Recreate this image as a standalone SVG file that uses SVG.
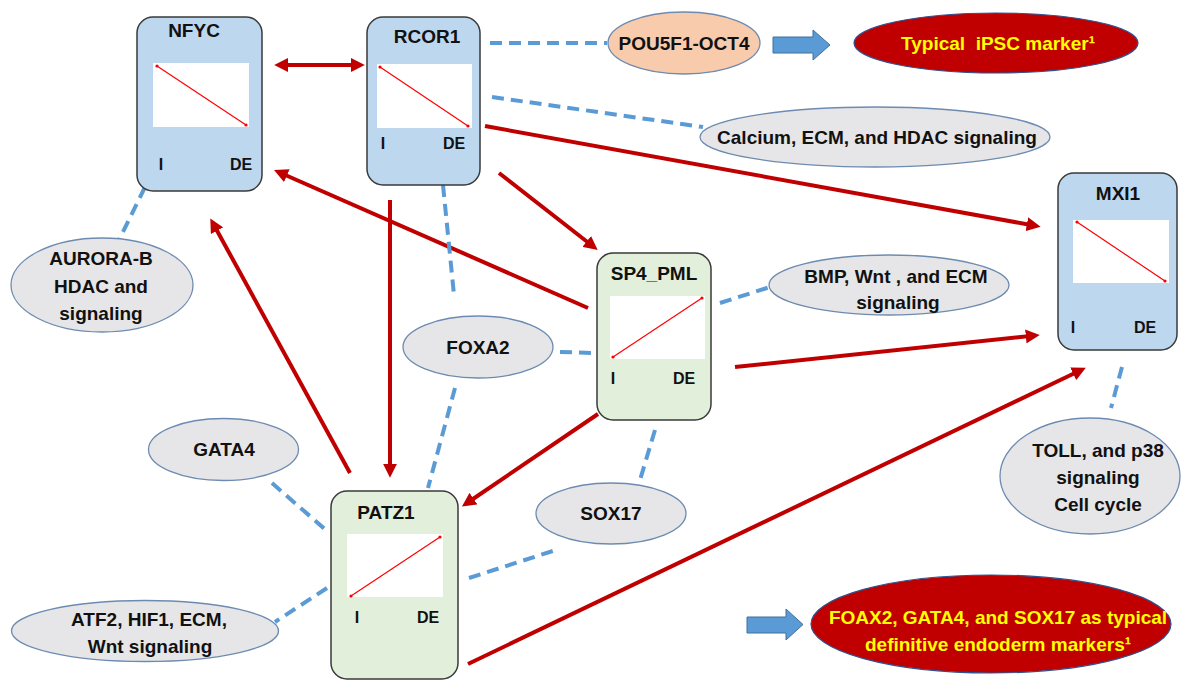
<svg xmlns="http://www.w3.org/2000/svg" width="1182" height="680" viewBox="0 0 1182 680">
<style>
text{font-family:"Liberation Sans",Arial,sans-serif;font-weight:bold;fill:#111;}
.t{font-size:19px;text-anchor:middle;}
.ax{font-size:16px;text-anchor:middle;}
.y{fill:#FFFF00;}
.boxb{fill:#BDD7EE;stroke:#3A3A3A;stroke-width:1.5;}
.boxg{fill:#E2EFDA;stroke:#3A3A3A;stroke-width:1.5;}
.plot{fill:#FFFFFF;stroke:none;}
.trend{stroke:#FF0000;stroke-width:1.2;fill:none;}
.dot{fill:#FF0000;}
.ell{fill:#E6E6E8;stroke:#6D8BB0;stroke-width:1.3;}
.pea{fill:#F8CBAD;stroke:#6D8BB0;stroke-width:1.3;}
.red{fill:#C00000;stroke:#2F528F;stroke-width:1.2;}
.ra{stroke:#C00000;stroke-width:4;fill:none;marker-end:url(#ah);}
.bd{stroke:#5B9BD5;stroke-width:4;fill:none;stroke-dasharray:12 7;}
.blk{fill:#5B9BD5;stroke:#41719C;stroke-width:1;}
</style>
<defs>
<marker id="ah" viewBox="0 0 10 10" refX="3" refY="5" markerWidth="3.5" markerHeight="3.5" orient="auto-start-reverse" markerUnits="strokeWidth">
<path d="M0,0 L10,5 L0,10 z" fill="#C00000"/>
</marker>
</defs>

<g id="connectors">
<line class="ra" x1="284" y1="65" x2="355" y2="65" style="marker-start:url(#ah)"/>
<line class="ra" x1="485" y1="126" x2="1031" y2="225"/>
<line class="ra" x1="499" y1="173" x2="590" y2="244"/>
<line class="ra" x1="390" y1="200" x2="390" y2="468"/>
<line class="ra" x1="588" y1="308" x2="283" y2="174"/>
<line class="ra" x1="350" y1="473" x2="215" y2="227"/>
<line class="ra" x1="735" y1="367" x2="1030" y2="336"/>
<line class="ra" x1="598" y1="414" x2="470" y2="501"/>
<line class="ra" x1="468" y1="664" x2="1077" y2="372"/>

<line class="bd" x1="490" y1="43" x2="607" y2="43"/>
<line class="bd" x1="492" y1="97" x2="703" y2="127"/>
<line class="bd" x1="145" y1="187" x2="119" y2="240"/>
<line class="bd" x1="443" y1="185" x2="454" y2="295"/>
<line class="bd" x1="560" y1="352" x2="593" y2="353"/>
<line class="bd" x1="720" y1="303" x2="770" y2="287"/>
<line class="bd" x1="455" y1="388" x2="428" y2="488"/>
<line class="bd" x1="272" y1="483" x2="327" y2="531"/>
<line class="bd" x1="327" y1="588" x2="275" y2="622"/>
<line class="bd" x1="469" y1="578" x2="559" y2="549"/>
<line class="bd" x1="655" y1="430" x2="640" y2="480"/>
<line class="bd" x1="1122" y1="367" x2="1111" y2="408"/>

<polygon class="blk" points="773,37 813,37 813,30 830,45 813,60 813,53 773,53"/>
<polygon class="blk" points="747,617 786,617 786,609 803,624.5 786,640 786,633 747,633"/>
</g>

<g id="NFYC">
<rect class="boxb" x="137" y="17" width="125" height="174" rx="16"/>
<text class="t" x="194" y="37">NFYC</text>
<rect class="plot" x="153" y="63" width="96" height="64"/>
<line class="trend" x1="157" y1="66" x2="246" y2="125"/>
<circle class="dot" cx="157" cy="66" r="1.6"/><circle class="dot" cx="246" cy="125" r="1.6"/>
<text class="ax" x="161" y="170">I</text>
<text class="ax" x="241" y="170">DE</text>
</g>

<g id="RCOR1">
<rect class="boxb" x="367" y="17" width="113" height="168" rx="16"/>
<text class="t" x="427" y="43">RCOR1</text>
<rect class="plot" x="377" y="64" width="95" height="64"/>
<line class="trend" x1="380" y1="67" x2="468" y2="126"/>
<circle class="dot" cx="380" cy="67" r="1.6"/><circle class="dot" cx="468" cy="126" r="1.6"/>
<text class="ax" x="383" y="149">I</text>
<text class="ax" x="454" y="149">DE</text>
</g>

<g id="SP4_PML">
<rect class="boxg" x="597" y="253" width="114" height="167" rx="16"/>
<text class="t" x="654" y="280">SP4_PML</text>
<rect class="plot" x="610" y="296" width="95" height="63"/>
<line class="trend" x1="613" y1="357" x2="702" y2="298"/>
<circle class="dot" cx="613" cy="357" r="1.6"/><circle class="dot" cx="702" cy="298" r="1.6"/>
<text class="ax" x="613" y="384">I</text>
<text class="ax" x="684" y="384">DE</text>
</g>

<g id="MXI1">
<rect class="boxb" x="1058" y="173" width="119" height="177" rx="16"/>
<text class="t" x="1118" y="200">MXI1</text>
<rect class="plot" x="1073" y="220" width="96" height="63"/>
<line class="trend" x1="1077" y1="222" x2="1165" y2="281"/>
<circle class="dot" cx="1077" cy="222" r="1.6"/><circle class="dot" cx="1165" cy="281" r="1.6"/>
<text class="ax" x="1073" y="333">I</text>
<text class="ax" x="1145" y="333">DE</text>
</g>

<g id="PATZ1">
<rect class="boxg" x="331" y="491" width="127" height="188" rx="16"/>
<text class="t" x="386" y="519">PATZ1</text>
<rect class="plot" x="347" y="534" width="96" height="63"/>
<line class="trend" x1="351" y1="596" x2="440" y2="537"/>
<circle class="dot" cx="351" cy="596" r="1.6"/><circle class="dot" cx="440" cy="537" r="1.6"/>
<text class="ax" x="357" y="623">I</text>
<text class="ax" x="428" y="623">DE</text>
</g>

<g id="POU5F1">
<ellipse class="pea" cx="684" cy="43" rx="76" ry="31"/>
<text class="t" x="684" y="50">POU5F1-OCT4</text>
</g>

<g id="iPSC_marker">
<ellipse class="red" cx="996" cy="43" rx="142" ry="30"/>
<text class="t y" x="998" y="50" xml:space="preserve" style="white-space:pre">Typical  iPSC marker¹</text>
</g>

<g id="Calcium">
<ellipse class="ell" cx="875" cy="137" rx="175" ry="30"/>
<text class="t" x="877" y="144">Calcium, ECM, and HDAC signaling</text>
</g>

<g id="AURORA">
<ellipse class="ell" cx="102" cy="285" rx="91" ry="47"/>
<text class="t" x="101" y="265">AURORA-B</text>
<text class="t" x="101" y="293">HDAC and</text>
<text class="t" x="101" y="320">signaling</text>
</g>

<g id="FOXA2">
<ellipse class="ell" cx="478" cy="347" rx="75" ry="31"/>
<text class="t" x="478" y="354">FOXA2</text>
</g>

<g id="BMP">
<ellipse class="ell" cx="889" cy="285" rx="120" ry="30"/>
<text class="t" x="896" y="283">BMP, Wnt , and ECM</text>
<text class="t" x="898" y="309">signaling</text>
</g>

<g id="GATA4">
<ellipse class="ell" cx="223.5" cy="449.5" rx="75" ry="31"/>
<text class="t" x="224" y="456">GATA4</text>
</g>

<g id="SOX17">
<ellipse class="ell" cx="611" cy="513.5" rx="75" ry="30.5"/>
<text class="t" x="611" y="520">SOX17</text>
</g>

<g id="TOLL">
<ellipse class="ell" cx="1090" cy="476" rx="90" ry="58"/>
<text class="t" x="1098" y="457">TOLL, and p38</text>
<text class="t" x="1098" y="484">signaling</text>
<text class="t" x="1098" y="511">Cell cycle</text>
</g>

<g id="ATF2">
<ellipse class="ell" cx="145" cy="631" rx="133.5" ry="30.5"/>
<text class="t" x="149" y="626">ATF2, HIF1, ECM,</text>
<text class="t" x="150" y="653">Wnt signaling</text>
</g>

<g id="DE_markers">
<ellipse class="red" cx="991" cy="624" rx="180" ry="49"/>
<text class="t y" x="998" y="624">FOAX2, GATA4, and SOX17 as typical</text>
<text class="t y" x="998" y="651">definitive endoderm markers¹</text>
</g>
</svg>
